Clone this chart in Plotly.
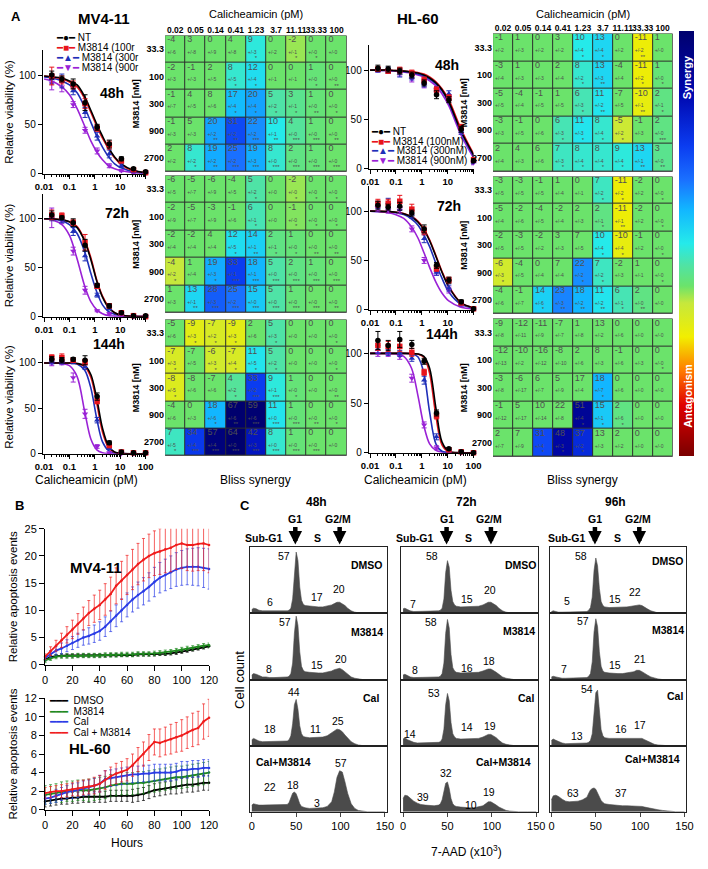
import plotly.graph_objects as go

W, H = 708, 869
FONT = "Arial, Liberation Sans, DejaVu Sans, sans-serif"

# ======================= DATA =======================
# ---- Panel A: viability curves ----
conc = [0.02, 0.05, 0.14, 0.41, 1.23, 3.7, 11.11, 33.33, 100]
conc_labels = ["0.02", "0.05", "0.14", "0.41", "1.23", "3.7", "11.11", "33.33", "100"]
fit_conc = [0.01, 0.02, 0.05, 0.1, 0.2, 0.4, 0.7, 1.2, 2, 3.5, 6, 11, 33, 100]
series_names = ["NT", "M3814 (100nM)", "M3814 (300nM)", "M3814 (900nM)"]
series_names_mv = ["NT", "M3814 (100r", "M3814 (300r", "M3814 (900r"]

mv48_mean = [[100, 96, 91, 72, 47, 30, 15, 5, 2],
             [99, 95, 90, 71, 46, 29, 13, 4, 1],
             [96, 94, 84, 62, 38, 20, 8, 2, 1],
             [92, 88, 70, 44, 23, 8, 3, 1, 0]]
mv48_sd = [[4, 3, 5, 8, 3, 4, 2, 1, 1],
           [9, 4, 4, 5, 3, 4, 2, 1, 1],
           [5, 7, 4, 5, 4, 4, 2, 1, 1],
           [7, 5, 3, 3, 3, 2, 1, 1, 0]]
mv48_fit = [[99, 98, 97, 94, 90, 78, 64, 50, 38, 26, 17, 10, 3.5, 1],
            [99, 98, 96, 93, 88, 76, 62, 48, 36, 25, 16, 9, 3, 1],
            [98, 97, 94, 90, 82, 67, 52, 38, 27, 17, 10, 6, 2, 0.5],
            [96, 94, 88, 80, 66, 48, 33, 22, 14, 8, 5, 3, 1, 0.3]]

mv72_mean = [[104, 101, 96, 73, 32, 11, 4, 1, 1],
             [104, 103, 96, 76, 31, 11, 4, 1, 0],
             [102, 99, 87, 62, 22, 8, 3, 1, 0],
             [101, 98, 67, 27, 6, 3, 1, 0, 0]]
mv72_sd = [[4, 2, 4, 6, 2, 2, 1, 1, 0],
           [5, 3, 3, 8, 2, 2, 1, 0, 0],
           [4, 3, 4, 5, 2, 1, 1, 0, 0],
           [10, 3, 4, 4, 1, 1, 0, 0, 0]]
mv72_fit = [[100, 100, 99, 97, 91, 77, 58, 36, 20, 9, 4, 1.5, 0.3, 0],
            [100, 100, 99, 97, 92, 78, 60, 37, 21, 10, 4, 1.5, 0.3, 0],
            [100, 99.5, 98, 94, 85, 66, 44, 25, 12, 5, 2.5, 1, 0.2, 0],
            [100, 99, 94, 83, 59, 31, 15, 7, 3, 1, 0.5, 0, 0, 0]]

mv144_mean = [[104, 103, 104, 103, 63, 12, 2, 1, 1],
              [106, 106, 103, 101, 58, 9, 2, 1, 1],
              [102, 102, 101, 96, 37, 6, 1, 0, 0],
              [100, 100, 84, 44, 8, 1, 0, 0, 0]]
mv144_sd = [[3, 3, 2, 5, 4, 2, 1, 1, 0],
            [3, 4, 2, 3, 3, 2, 1, 0, 0],
            [3, 3, 2, 3, 3, 1, 0, 0, 0],
            [3, 2, 5, 5, 2, 1, 0, 0, 0]]
mv144_fit = [[100, 100, 100, 100, 99.5, 97, 87, 60, 28, 8, 2, 0.5, 0, 0],
             [100, 100, 100, 100, 99.5, 96, 84, 55, 24, 6.5, 1.5, 0.3, 0, 0],
             [100, 100, 100, 100, 99, 92, 72, 38, 13, 3.3, 0.8, 0.2, 0, 0],
             [100, 100, 99.6, 97, 85, 46, 16, 4.3, 1.1, 0.2, 0, 0, 0, 0]]

hl48_mean = [[102, 101, 99, 95, 87, 75, 70, 40, 8],
             [101, 99, 100, 97, 90, 80, 72, 42, 9],
             [100, 100, 97, 93, 86, 80, 76, 38, 7],
             [100, 99, 97, 91, 85, 80, 72, 38, 6]]
hl48_sd = [[3, 3, 3, 3, 3, 4, 3, 3, 2],
           [2, 2, 3, 3, 3, 3, 3, 3, 2],
           [2, 3, 4, 3, 3, 3, 3, 3, 2],
           [2, 2, 3, 3, 3, 3, 3, 3, 2]]
hl48_fit = [[100, 100, 100, 99.5, 99, 98, 97, 95, 92, 87, 80, 68, 38, 14],
            [100, 100, 100, 99.5, 99, 98.5, 97.5, 96, 93, 88, 81, 70, 40, 15],
            [100, 100, 99.5, 99, 98.5, 97.5, 96, 94, 91, 86, 79, 67, 37, 13],
            [100, 100, 99.5, 99, 98, 97, 95, 93, 89, 84, 76, 64, 34, 11]]

hl72_mean = [[106, 104, 105, 98, 82, 45, 30, 8, 1],
             [108, 108, 110, 102, 80, 42, 30, 7, 1],
             [106, 109, 105, 97, 72, 38, 22, 6, 1],
             [103, 101, 101, 82, 50, 38, 20, 5, 1]]
hl72_sd = [[4, 3, 4, 3, 4, 3, 3, 2, 1],
           [4, 4, 6, 5, 4, 3, 3, 2, 1],
           [3, 4, 4, 4, 4, 3, 3, 2, 1],
           [3, 3, 3, 3, 3, 3, 3, 2, 1]]
hl72_fit = [[100, 99.8, 99.5, 98.8, 97.3, 94, 89, 81, 70, 54, 38, 23, 7, 2],
            [100, 99.8, 99.5, 98.8, 97.5, 94.5, 90, 82, 71, 55, 39, 24, 7, 2],
            [100, 99.7, 99.3, 98.5, 96.5, 92, 86, 76, 64, 47, 32, 18, 5.5, 1.6],
            [100, 99.4, 98.5, 96.4, 92.7, 84, 73, 58, 43, 28, 17, 9, 2.6, 0.7]]

hl144_mean = [[113, 108, 114, 109, 92, 40, 4, 1, 0],
              [108, 107, 107, 101, 81, 37, 3, 1, 0],
              [104, 101, 100, 95, 73, 16, 2, 0, 0],
              [100, 99, 97, 75, 28, 5, 1, 0, 0]]
hl144_sd = [[9, 5, 8, 4, 3, 3, 1, 1, 0],
            [5, 5, 5, 4, 3, 3, 1, 0, 0],
            [4, 3, 3, 3, 4, 3, 1, 0, 0],
            [3, 2, 3, 4, 3, 2, 1, 0, 0]]
hl144_fit = [[100, 100, 100, 100, 100, 99.8, 99.4, 97, 85, 45, 11, 1.5, 0, 0],
             [100, 100, 100, 100, 100, 99.8, 99.4, 96, 80, 37, 8, 1, 0, 0],
             [100, 100, 100, 100, 100, 99.5, 96.5, 80, 41, 9, 1.5, 0.2, 0, 0],
             [100, 100, 99.8, 99.4, 97, 85, 58, 27, 9, 2.4, 0.6, 0, 0, 0]]

# ---- Panel A: Bliss synergy matrices (rows = M3814 doses, cols = calicheamicin) ----
m3814_doses = ["33.3", "100", "300", "900", "2700"]

mv48_bliss = [[-4, 3, 0, 4, 9, 0, -2, 0, 0],
              [-2, -1, 2, 8, 12, 0, 0, 1, 0],
              [-1, 4, 8, 17, 20, 5, 3, 1, 0],
              [-1, 5, 20, 31, 22, 10, 4, 1, 0],
              [2, 8, 19, 25, 19, 8, 2, 1, 0]]
mv48_bliss_sd = [[6, 8, 9, 8, 3, 2, 1, 0, 0],
                 [3, 3, 5, 5, 4, 1, 1, 0, 0],
                 [7, 5, 6, 4, 4, 2, 1, 0, 0],
                 [3, 3, 2, 2, 2, 1, 0, 0, 0],
                 [2, 2, 2, 2, 3, 0, 0, 0, 0]]
mv48_bliss_sig = [[0, 0, 0, 0, 1, 0, 1, 1, 0],
                  [0, 0, 0, 1, 1, 0, 0, 1, 2],
                  [0, 0, 0, 1, 1, 1, 1, 2, 1],
                  [0, 0, 2, 2, 3, 2, 3, 3, 2],
                  [0, 1, 2, 3, 3, 3, 3, 3, 3]]

mv72_bliss = [[-6, -5, -6, -4, 5, 0, -2, 0, 0],
              [-2, -5, -3, -1, 6, 0, -1, 0, 0],
              [-2, -2, 4, 12, 14, 2, 1, 0, 0],
              [-4, 1, 19, 33, 18, 5, 2, 1, 0],
              [1, 13, 28, 25, 15, 5, 1, 0, 0]]
mv72_bliss_sd = [[5, 7, 9, 5, 2, 0, 0, 0, 0],
                 [9, 7, 9, 6, 1, 0, 0, 0, 0],
                 [4, 4, 4, 5, 1, 1, 0, 0, 0],
                 [2, 4, 3, 1, 1, 0, 0, 0, 0],
                 [3, 1, 3, 2, 0, 0, 0, 0, 0]]
mv72_bliss_sig = [[0, 0, 0, 0, 1, 0, 1, 1, 1],
                  [0, 0, 0, 0, 1, 0, 1, 1, 1],
                  [0, 0, 0, 1, 2, 1, 1, 2, 2],
                  [1, 0, 1, 3, 3, 3, 3, 3, 3],
                  [0, 2, 3, 3, 3, 3, 3, 3, 2]]

mv144_bliss = [[-5, -9, -7, -9, 2, 5, 0, 0, 0],
               [-7, -7, -6, -7, 11, 5, 0, 0, 0],
               [-8, -8, -7, 4, 33, 9, 1, 0, 0],
               [-4, 0, 18, 67, 59, 11, 1, 0, 0],
               [7, 34, 57, 64, 42, 8, 1, 0, 0]]
mv144_bliss_sd = [[6, 3, 2, 3, 6, 3, 0, 0, 0],
                  [3, 5, 3, 4, 5, 2, 0, 0, 0],
                  [5, 6, 6, 2, 2, 1, 0, 0, 0],
                  [6, 3, 6, 6, 6, 0, 0, 0, 0],
                  [5, 4, 4, 0, 3, 0, 0, 0, 0]]
mv144_bliss_sig = [[0, 1, 1, 1, 0, 1, 0, 0, 1],
                   [1, 0, 1, 1, 1, 1, 0, 0, 1],
                   [1, 0, 0, 1, 3, 3, 1, 0, 2],
                   [0, 0, 1, 2, 3, 3, 3, 2, 1],
                   [1, 3, 3, 3, 3, 3, 3, 3, 0]]

hl48_bliss = [[-1, 1, 0, 3, 10, 13, 0, -11, 1],
              [-3, 1, 0, 2, 8, 13, -4, -11, 1],
              [-5, -4, -1, 1, 6, 11, -7, -10, 2],
              [-3, -1, 0, 6, 11, 8, -5, -1, 2],
              [2, 4, 6, 7, 8, 8, 9, 13, 3]]
hl48_bliss_sd = [[2, 3, 2, 2, 4, 4, 2, 2, 0],
                 [4, 3, 3, 4, 2, 3, 4, 2, 0],
                 [5, 4, 5, 5, 3, 2, 5, 1, 1],
                 [3, 5, 6, 3, 3, 4, 2, 3, 0],
                 [4, 3, 6, 3, 4, 4, 4, 1, 0]]
hl48_bliss_sig = [[0, 0, 0, 0, 1, 1, 0, 2, 0],
                  [0, 0, 0, 0, 1, 2, 0, 1, 1],
                  [0, 0, 0, 0, 1, 2, 0, 2, 1],
                  [0, 0, 0, 1, 1, 1, 1, 0, 3],
                  [0, 0, 0, 1, 1, 1, 1, 2, 2]]

hl72_bliss = [[-3, -3, -1, 1, 0, 7, -11, -2, 0],
              [-5, -2, -4, -2, 2, 2, -11, -2, 0],
              [-2, -3, -2, 3, 7, 10, -10, -1, 0],
              [-6, -4, 0, 7, 22, 7, -2, 1, 0],
              [-4, -1, 14, 23, 18, 11, 6, 2, 0]]
hl72_bliss_sd = [[5, 5, 5, 4, 1, 2, 2, 2, 0],
                 [4, 6, 5, 4, 3, 1, 1, 2, 0],
                 [5, 5, 2, 3, 5, 4, 4, 2, 0],
                 [3, 5, 4, 4, 2, 2, 3, 1, 0],
                 [6, 7, 6, 3, 2, 2, 1, 0, 0]]
hl72_bliss_sig = [[0, 0, 0, 0, 0, 1, 1, 0, 1],
                  [0, 0, 0, 0, 0, 1, 2, 0, 1],
                  [0, 0, 0, 0, 0, 1, 1, 0, 1],
                  [1, 0, 0, 0, 1, 1, 0, 0, 1],
                  [0, 0, 1, 2, 2, 2, 1, 2, 0]]

hl144_bliss = [[-9, -12, -11, -7, 1, 13, 0, 0, 0],
               [-12, -10, -16, -8, 2, 8, -1, 0, 0],
               [-3, -6, 6, 5, 17, 18, 0, 0, 0],
               [-1, 5, 10, 22, 51, 15, 2, 0, 0],
               [2, 7, 31, 48, 37, 13, 2, 0, 0]]
hl144_bliss_sd = [[8, 11, 9, 7, 8, 2, 6, 0, 0],
                  [13, 2, 12, 10, 6, 3, 6, 3, 0],
                  [8, 17, 7, 9, 4, 7, 6, 0, 0],
                  [12, 17, 14, 8, 4, 1, 6, 0, 0],
                  [7, 9, 4, 3, 2, 3, 2, 0, 0]]
hl144_bliss_sig = [[0, 0, 0, 0, 0, 0, 0, 0, 0],
                   [0, 0, 0, 0, 0, 0, 0, 0, 1],
                   [0, 0, 0, 0, 0, 1, 0, 0, 0],
                   [0, 0, 0, 0, 1, 1, 1, 0, 0],
                   [0, 0, 1, 1, 1, 0, 0, 0, 0]]

# ---- Panel B: real-time apoptosis ----
hours = [0, 4, 8, 12, 16, 20, 24, 28, 32, 36, 40, 44, 48, 52, 56, 60,
         64, 68, 72, 76, 80, 84, 88, 92, 96, 100, 104, 108, 112, 116, 120]
apo_names = ["DMSO", "M3814", "Cal", "Cal + M3814"]

mv_dmso = [1.0, 1.4, 1.6, 1.7, 1.7, 1.7, 1.7, 1.7, 1.7, 1.7, 1.7, 1.7, 1.8, 1.8, 1.8, 1.8,
           1.8, 1.9, 1.9, 1.9, 1.9, 2.0, 2.0, 2.1, 2.2, 2.4, 2.6, 2.8, 3.0, 3.2, 3.4]
mv_dmso_sd = [0.3, 0.3, 0.3, 0.3, 0.3, 0.3, 0.3, 0.3, 0.3, 0.3, 0.3, 0.3, 0.3, 0.3, 0.3, 0.3,
              0.3, 0.3, 0.3, 0.3, 0.3, 0.3, 0.3, 0.3, 0.3, 0.3, 0.3, 0.3, 0.3, 0.3, 0.3]
mv_m3814 = [0.8, 1.2, 1.5, 1.6, 1.6, 1.6, 1.7, 1.7, 1.7, 1.7, 1.7, 1.8, 1.8, 1.8, 1.9, 1.9,
            1.9, 2.0, 2.0, 2.0, 2.1, 2.2, 2.3, 2.4, 2.6, 2.8, 3.0, 3.1, 3.3, 3.5, 3.6]
mv_m3814_sd = [0.4, 0.4, 0.4, 0.4, 0.4, 0.4, 0.4, 0.4, 0.4, 0.4, 0.4, 0.4, 0.4, 0.4, 0.4, 0.4,
               0.4, 0.4, 0.4, 0.4, 0.4, 0.4, 0.4, 0.4, 0.4, 0.4, 0.4, 0.4, 0.4, 0.4, 0.4]
mv_cal = [1.3, 2.0, 2.6, 3.0, 3.5, 4.0, 4.5, 5.0, 5.3, 5.7, 6.2, 7.0, 8.0, 9.0, 10.0, 11.0,
          12.0, 12.8, 13.5, 14.3, 15.2, 16.0, 16.5, 17.0, 17.5, 17.8, 18.0, 18.0, 18.0, 17.8, 17.6]
mv_cal_sd = [0.4, 0.6, 0.8, 1.0, 1.1, 1.2, 1.3, 1.4, 1.5, 1.6, 1.7, 1.8, 1.9, 2.0, 2.1, 2.2,
             2.3, 2.4, 2.5, 2.6, 2.7, 2.8, 2.9, 3.0, 3.1, 3.2, 3.3, 3.4, 3.5, 3.6, 3.7]
mv_combo = [1.5, 2.5, 3.5, 4.5, 5.5, 6.5, 7.5, 8.5, 9.5, 10.3, 11.0, 12.0, 13.0, 14.5, 15.5, 16.5,
            17.5, 18.5, 19.3, 20.0, 20.5, 20.8, 21.2, 21.5, 22.0, 22.3, 22.0, 22.0, 22.2, 22.3, 22.0]
mv_combo_sd = [0.5, 0.8, 1.0, 1.3, 1.5, 1.7, 1.9, 2.1, 2.3, 2.5, 2.7, 2.9, 3.1, 3.3, 3.5, 3.6,
               3.7, 3.8, 3.9, 4.0, 4.1, 4.2, 4.3, 4.4, 4.5, 4.6, 4.7, 4.8, 4.9, 5.0, 5.1]

hl_dmso = [0.9, 1.0, 1.1, 1.2, 1.2, 1.3, 1.3, 1.4, 1.4, 1.4, 1.4, 1.4, 1.5, 1.5, 1.5, 1.5,
           1.5, 1.6, 1.7, 1.9, 2.1, 2.2, 2.3, 2.4, 2.5, 2.6, 2.7, 2.7, 2.8, 2.9, 2.9]
hl_dmso_sd = [0.6, 0.6, 0.6, 0.6, 0.6, 0.6, 0.6, 0.6, 0.6, 0.6, 0.6, 0.6, 0.6, 0.6, 0.6, 0.6,
              0.7, 0.7, 0.7, 0.7, 0.7, 0.7, 0.7, 0.7, 0.8, 0.8, 0.8, 0.8, 0.8, 0.8, 0.8]
hl_m3814 = [1.6, 1.7, 1.8, 1.9, 2.0, 2.0, 2.1, 2.1, 2.1, 2.2, 2.3, 2.4, 2.6, 2.7, 2.8, 2.8,
            2.8, 2.9, 2.9, 3.0, 3.1, 3.2, 3.3, 3.4, 3.5, 3.5, 3.6, 3.7, 3.8, 3.9, 4.0]
hl_m3814_sd = [1.0, 1.0, 1.0, 1.1, 1.1, 1.1, 1.1, 1.1, 1.2, 1.2, 1.2, 1.2, 1.2, 1.2, 1.2, 1.2,
               1.2, 1.2, 1.2, 1.2, 1.2, 1.2, 1.2, 1.2, 1.2, 1.2, 1.2, 1.2, 1.2, 1.2, 1.2]
hl_cal = [1.2, 1.3, 1.5, 1.7, 1.9, 2.0, 2.1, 2.3, 2.4, 2.6, 2.8, 3.3, 3.4, 3.5, 3.6, 3.7,
          3.8, 3.8, 3.9, 3.9, 4.0, 4.0, 4.0, 4.0, 4.1, 4.3, 4.3, 4.4, 4.4, 4.5, 4.5]
hl_cal_sd = [0.6, 0.6, 0.7, 0.7, 0.7, 0.8, 0.8, 0.8, 0.8, 0.8, 0.9, 0.9, 0.9, 0.9, 0.9, 0.9,
             0.9, 0.9, 0.9, 0.9, 0.9, 0.9, 0.9, 0.9, 0.9, 0.9, 0.9, 0.9, 0.9, 0.9, 0.9]
hl_combo = [1.8, 1.9, 2.0, 2.0, 2.1, 2.2, 2.3, 2.4, 2.5, 2.6, 2.8, 3.2, 3.6, 3.9, 4.1, 4.3,
            4.8, 5.4, 6.0, 6.7, 7.3, 7.2, 7.4, 7.6, 7.8, 8.0, 8.3, 8.6, 8.8, 9.5, 9.9]
hl_combo_sd = [0.6, 0.6, 0.6, 0.7, 0.7, 0.7, 0.8, 0.8, 0.8, 0.9, 0.9, 1.0, 1.0, 1.1, 1.1, 1.2,
               1.2, 1.3, 1.3, 1.4, 1.4, 1.5, 1.5, 1.6, 1.6, 1.7, 1.7, 1.8, 1.8, 1.9, 2.0]

# ---- Panel C: cell-cycle histograms (7-AAD x10^3 vs relative cell count) ----
treatments = ["DMSO", "M3814", "Cal", "Cal+M3814"]
timepoints = ["48h", "72h", "96h"]
hist_x = [0, 2, 5, 8, 12, 16, 20, 25, 30, 35, 40, 42, 44, 46, 48, 50, 52, 54, 56, 58,
          60, 65, 70, 75, 80, 85, 90, 93, 96, 99, 102, 105, 108, 112, 116, 120, 125, 130, 140, 150]
hist48 = [[6, 8, 7, 5, 4, 4, 3, 3, 3, 3, 4, 5, 8, 22, 65, 93, 80, 40, 20, 14,
           12, 11, 10, 10, 10, 11, 13, 15, 17, 17, 15, 12, 8, 4, 2, 1, 0, 0, 0, 0],
          [7, 9, 8, 6, 4, 4, 3, 3, 3, 3, 4, 5, 9, 25, 70, 96, 82, 42, 20, 14,
           12, 11, 10, 10, 10, 11, 13, 15, 16, 17, 15, 12, 8, 4, 2, 1, 0, 0, 0, 0],
          [9, 11, 9, 7, 6, 6, 6, 6, 6, 6, 7, 9, 15, 33, 62, 70, 55, 30, 18, 14,
           13, 12, 12, 12, 13, 15, 19, 22, 25, 24, 21, 16, 11, 6, 3, 1, 0, 0, 0, 0],
          [10, 12, 11, 10, 10, 10, 10, 10, 10, 10, 11, 14, 22, 28, 30, 27, 20, 12, 8, 7,
           6, 5, 5, 5, 6, 8, 15, 30, 52, 62, 60, 45, 28, 12, 5, 2, 1, 0, 0, 0]]
hist72 = [[7, 8, 6, 4, 3, 3, 3, 3, 3, 3, 4, 5, 8, 22, 62, 80, 70, 35, 18, 13,
           11, 10, 10, 10, 10, 11, 13, 15, 17, 17, 15, 12, 8, 4, 2, 1, 0, 0, 0, 0],
          [7, 8, 6, 4, 3, 3, 3, 3, 3, 3, 4, 5, 9, 25, 70, 91, 78, 38, 18, 13,
           11, 10, 10, 10, 10, 11, 13, 15, 16, 16, 14, 11, 8, 4, 2, 1, 0, 0, 0, 0],
          [10, 12, 9, 7, 5, 4, 4, 4, 4, 4, 5, 6, 10, 25, 62, 79, 68, 35, 18, 13,
           11, 10, 10, 10, 10, 11, 13, 15, 17, 17, 15, 12, 8, 4, 2, 1, 0, 0, 0, 0],
          [20, 25, 24, 20, 16, 13, 11, 10, 9, 9, 10, 12, 18, 32, 43, 45, 35, 20, 12, 9,
           8, 7, 6, 6, 6, 7, 9, 12, 15, 15, 13, 10, 7, 4, 2, 1, 0, 0, 0, 0]]
hist96 = [[3, 4, 3, 2, 2, 2, 2, 2, 2, 2, 3, 5, 9, 25, 65, 84, 72, 38, 18, 12,
           10, 9, 9, 9, 9, 10, 11, 12, 13, 13, 12, 10, 7, 4, 2, 1, 0, 0, 0, 0],
          [4, 5, 4, 3, 2, 2, 2, 2, 2, 2, 3, 5, 9, 27, 72, 92, 80, 42, 20, 13,
           11, 10, 9, 9, 9, 10, 11, 12, 14, 14, 12, 10, 7, 4, 2, 1, 0, 0, 0, 0],
          [8, 10, 8, 6, 4, 3, 3, 3, 3, 3, 4, 5, 8, 18, 50, 80, 84, 50, 24, 15,
           12, 11, 11, 11, 11, 11, 12, 12, 12, 12, 11, 9, 7, 4, 2, 1, 0, 0, 0, 0],
          [18, 24, 25, 23, 19, 16, 15, 15, 16, 18, 22, 28, 33, 35, 36, 34, 28, 22, 17, 14,
           12, 11, 10, 9, 9, 9, 9, 9, 9, 8, 8, 7, 6, 5, 4, 3, 2, 1, 0, 0]]
pct48 = [[6, 57, 17, 20], [8, 57, 15, 20], [18, 44, 11, 25], [22, 18, 3, 57]]
pct72 = [[7, 58, 15, 20], [8, 58, 16, 18], [14, 53, 14, 19], [39, 32, 10, 19]]
pct96 = [[5, 58, 15, 22], [7, 57, 15, 21], [13, 54, 16, 17], [63, 37]]

# ======================= STYLE / LAYOUT HELPERS =======================
def PX(x):
    return x / W

def PY(y):
    return 1 - y / H

def dx(a, b):
    return [a / W, b / W]

def dy(top, bottom):
    return [1 - bottom / H, 1 - top / H]

fig = go.Figure()
layout = {}
annotations = []
shapes = []
counter = [0]

def new_axes(xdom, ydom, xkw, ykw):
    counter[0] += 1
    n = counter[0]
    s = "" if n == 1 else str(n)
    layout["xaxis" + s] = dict(domain=xdom, anchor="y" + s, **xkw)
    layout["yaxis" + s] = dict(domain=ydom, anchor="x" + s, **ykw)
    return "x" + s, "y" + s

def ann(text, x, y, size=10, bold=False, color="black", xanchor="center", yanchor="middle",
        xref="paper", yref="paper", angle=0):
    t = "<b>%s</b>" % text if bold else text
    annotations.append(dict(text=t, x=x, y=y, xref=xref, yref=yref, showarrow=False,
                            font=dict(size=size, color=color, family=FONT),
                            xanchor=xanchor, yanchor=yanchor, textangle=angle))

# ======================= PANEL A: CURVES =======================
curve_colors = ["#000000", "#e8141c", "#1f2fb8", "#9a22d6"]
curve_symbols = ["circle", "square", "triangle-up", "triangle-down"]
legend_glyphs = ["\u25cf", "\u25a0", "\u25b2", "\u25bc"]
minor_vals = [m * 10.0 ** e for e in range(-2, 2) for m in range(2, 10)]

def curve_panel(xdom, ydom, means, sds, fits, show100, ytitle):
    tt = ["<b>0.01</b>", "<b>0.1</b>", "<b>1</b>", "<b>10</b>", "<b>100</b>" if show100 else ""]
    xkw = dict(type="log", range=[-2.05, 2.0], tickvals=[0.01, 0.1, 1, 10, 100], ticktext=tt,
               ticks="outside", ticklen=4, tickwidth=1, tickcolor="black", showline=True,
               linecolor="black", linewidth=1.2, showgrid=False, zeroline=False, tickangle=0,
               tickfont=dict(size=9.5, color="black"),
               minor=dict(tickvals=minor_vals, ticks="outside", ticklen=2, tickcolor="black", showgrid=False))
    ykw = dict(range=[0, 125], tickvals=[0, 50, 100], ticks="outside", ticklen=4, tickcolor="black",
               showline=True, linecolor="black", linewidth=1.2, showgrid=False, zeroline=False,
               tickfont=dict(size=10, color="black"))
    if ytitle:
        ykw["title"] = dict(text="Relative viability (%)", font=dict(size=11.5, color="black"), standoff=3)
    xa, ya = new_axes(xdom, ydom, xkw, ykw)
    for k in [3, 2, 1, 0]:
        fig.add_trace(go.Scatter(x=fit_conc, y=fits[k], mode="lines", xaxis=xa, yaxis=ya,
                                 line=dict(color=curve_colors[k], width=1.6, shape="spline", smoothing=0.9),
                                 showlegend=False, hoverinfo="skip"))
    for k in [3, 2, 1, 0]:
        fig.add_trace(go.Scatter(x=conc, y=means[k], mode="markers", xaxis=xa, yaxis=ya,
                                 marker=dict(color=curve_colors[k], symbol=curve_symbols[k], size=5.5),
                                 error_y=dict(type="data", array=sds[k], color=curve_colors[k],
                                              thickness=1, width=2.5),
                                 cliponaxis=False, showlegend=False, hoverinfo="skip"))
    return xa, ya

curve_panel(dx(35.7, 141), dy(45, 170), mv48_mean, mv48_sd, mv48_fit, False, True)
curve_panel(dx(35.7, 141), dy(191, 315), mv72_mean, mv72_sd, mv72_fit, False, True)
curve_panel(dx(35.7, 141), dy(339, 454), mv144_mean, mv144_sd, mv144_fit, True, True)
curve_panel(dx(369.7, 477), dy(40, 165), hl48_mean, hl48_sd, hl48_fit, False, False)
curve_panel(dx(369.7, 477), dy(183, 308), hl72_mean, hl72_sd, hl72_fit, False, False)
curve_panel(dx(369.7, 477), dy(327, 453), hl144_mean, hl144_sd, hl144_fit, True, False)

for txt, (x, y) in zip(["48h", "72h", "144h"], [(107, 88), (112, 210), (103, 343)]):
    ann(txt, PX(x), PY(y), size=14, bold=True)
for txt, (x, y) in zip(["48h", "72h", "144h"], [(450, 60), (452, 203), (445, 333)]):
    ann(txt, PX(x), PY(y), size=14, bold=True)

# custom compact legends
for k in range(4):
    ann("<span style='color:%s'>\u2501%s\u2501</span> %s" % (curve_colors[k], legend_glyphs[k], series_names_mv[k]),
        PX(47), PY(32 + 10 * k), size=10, xanchor="left")
    ann("<span style='color:%s'>\u2501%s\u2501</span> %s" % (curve_colors[k], legend_glyphs[k], series_names[k]),
        PX(370), PY(127 + 10 * k), size=10, xanchor="left")

# ======================= PANEL A: HEATMAPS =======================
CS = [[0.0, "#7a0000"], [0.12, "#e00000"], [0.20, "#ff7a00"], [0.28, "#f2ee00"],
      [0.36, "#c6e83c"], [0.40, "#6be36b"], [0.45, "#4fe3a6"], [0.50, "#25eaea"],
      [0.58, "#12b6ff"], [0.65, "#1a70ff"], [0.73, "#0b3cf0"], [0.85, "#0008b0"], [1.0, "#00006e"]]
ncol = len(conc_labels)
nrow = len(m3814_doses)
first_scale = [True]

def heat_panel(xdom, ydom, vals, sds, sig, top_labels):
    xkw = dict(range=[-0.5, ncol - 0.5], showgrid=False, zeroline=False, showline=False,
               tickvals=list(range(ncol)), ticktext=["<b>%s</b>" % c for c in conc_labels],
               showticklabels=top_labels, side="top", ticks="", tickangle=0,
               tickfont=dict(size=8.5, color="black"))
    ykw = dict(range=[nrow - 0.5, -0.5], showgrid=False, zeroline=False, showline=False,
               tickvals=list(range(nrow)), ticktext=["<b>%s</b>" % d for d in m3814_doses], ticks="",
               tickfont=dict(size=9, color="black"),
               title=dict(text="<b>M3814 [nM]</b>", font=dict(size=9, color="black"), standoff=2))
    xa, ya = new_axes(xdom, ydom, xkw, ykw)
    zc = [[vals[i][j] if sig[i][j] > 0 else 0 for j in range(ncol)] for i in range(nrow)]
    hm = dict(z=zc, x=list(range(ncol)), y=list(range(nrow)), xaxis=xa, yaxis=ya, colorscale=CS,
              zmin=-40, zmax=60, xgap=1, ygap=1, hoverinfo="skip", showscale=first_scale[0])
    if first_scale[0]:
        hm["colorbar"] = dict(x=PX(688), xanchor="left", y=PY(25), yanchor="top", len=(456 - 25) / H,
                              lenmode="fraction", thickness=15, thicknessmode="pixels", outlinewidth=0,
                              showticklabels=False, ticks="", xpad=0, ypad=0)
        first_scale[0] = False
    fig.add_trace(go.Heatmap(**hm))
    shapes.append(dict(type="rect", xref=xa, yref=ya, x0=-0.5, x1=ncol - 0.5, y0=-0.5, y1=nrow - 0.5,
                       fillcolor="#2e2e2e", line=dict(color="#2e2e2e", width=1), layer="below"))
    tx, ty, tt, sx, sy, st = [], [], [], [], [], []
    for i in range(nrow):
        for j in range(ncol):
            tx.append(j - 0.4)
            ty.append(i - 0.12)
            tt.append("%d<br><span style='font-size:5px'>+/-%d</span>" % (vals[i][j], sds[i][j]))
            if sig[i][j] > 0:
                sx.append(j)
                sy.append(i + 0.36)
                st.append("*" * sig[i][j])
    fig.add_trace(go.Scatter(x=tx, y=ty, text=tt, mode="text", textposition="middle right",
                             textfont=dict(size=9, color="#505050", family=FONT), xaxis=xa, yaxis=ya,
                             cliponaxis=False, showlegend=False, hoverinfo="skip"))
    fig.add_trace(go.Scatter(x=sx, y=sy, text=st, mode="text", textposition="middle center",
                             textfont=dict(size=6, color="#505050", family=FONT), xaxis=xa, yaxis=ya,
                             cliponaxis=False, showlegend=False, hoverinfo="skip"))

heat_panel(dx(161, 347), dy(30, 168), mv48_bliss, mv48_bliss_sd, mv48_bliss_sig, True)
heat_panel(dx(161, 347), dy(172, 311), mv72_bliss, mv72_bliss_sd, mv72_bliss_sig, False)
heat_panel(dx(161, 347), dy(318, 456), mv144_bliss, mv144_bliss_sd, mv144_bliss_sig, False)
heat_panel(dx(497, 681), dy(28, 168), hl48_bliss, hl48_bliss_sd, hl48_bliss_sig, True)
heat_panel(dx(497, 681), dy(173, 312), hl72_bliss, hl72_bliss_sd, hl72_bliss_sig, False)
heat_panel(dx(497, 681), dy(317, 457), hl144_bliss, hl144_bliss_sd, hl144_bliss_sig, False)

ann("Synergy", PX(696), PY(72), size=11, bold=True, color="white", angle=-90)
ann("Antagonism", PX(696), PY(395), size=11, bold=True, color="white", angle=-90)

# Panel A titles
ann("A", PX(8), PY(11), size=13, bold=True)
ann("MV4-11", PX(98), PY(13), size=15, bold=True)
ann("HL-60", PX(420), PY(13), size=15, bold=True)
ann("Calicheamicin (pM)", PX(254), PY(8), size=11)
ann("Calicheamicin (pM)", PX(589), PY(8), size=11)
ann("Calicheamicin (pM)", PX(80), PY(481), size=12)
ann("Calicheamicin (pM)", PX(418), PY(481), size=12)
ann("Bliss synergy", PX(254), PY(481), size=12)
ann("Bliss synergy", PX(589), PY(481), size=12)

# ======================= PANEL B =======================
apo_colors = ["#000000", "#1e8a1e", "#2a3ce6", "#f01c1c"]

def apo_panel(ydom, yrange, dtick, series, sds, xtitle):
    xkw = dict(range=[0, 120], tickvals=[0, 20, 40, 60, 80, 100, 120], ticks="outside", ticklen=5,
               tickcolor="black", showline=True, linecolor="black", linewidth=1.2, showgrid=False,
               zeroline=False, tickfont=dict(size=11, color="black"))
    if xtitle:
        xkw["title"] = dict(text="Hours", font=dict(size=12, color="black"), standoff=8)
    ykw = dict(range=yrange, dtick=dtick, ticks="outside", ticklen=5, tickcolor="black", showline=True,
               linecolor="black", linewidth=1.2, showgrid=False, zeroline=False,
               tickfont=dict(size=11, color="black"),
               title=dict(text="Relative apoptosis events", font=dict(size=11.5, color="black"), standoff=4))
    xa, ya = new_axes(dx(38, 206), ydom, xkw, ykw)
    for k in range(4):
        fig.add_trace(go.Scatter(x=hours, y=series[k], mode="lines+markers", xaxis=xa, yaxis=ya,
                                 line=dict(color=apo_colors[k], width=1.8),
                                 marker=dict(color=apo_colors[k], size=2.5),
                                 error_y=dict(type="data", array=sds[k], color=apo_colors[k],
                                              thickness=0.7, width=1.5),
                                 cliponaxis=False, showlegend=False, hoverinfo="skip"))

apo_panel(dy(530, 668), [0, 25], 5, [mv_dmso, mv_m3814, mv_cal, mv_combo],
          [mv_dmso_sd, mv_m3814_sd, mv_cal_sd, mv_combo_sd], False)
apo_panel(dy(702, 815), [0, 12], 2, [hl_dmso, hl_m3814, hl_cal, hl_combo],
          [hl_dmso_sd, hl_m3814_sd, hl_cal_sd, hl_combo_sd], True)

ann("B", PX(12), PY(506), size=13, bold=True)
ann("MV4-11", PX(90), PY(569), size=15, bold=True)
ann("HL-60", PX(84), PY(753), size=15, bold=True)
for k, y in enumerate([704, 715, 726, 737]):
    ann("<span style='color:%s'>\u2501\u2501\u2501</span>  %s" % (apo_colors[k], apo_names[k]),
        PX(40), PY(y), size=10, xanchor="left")

# ======================= PANEL C =======================
col_x = [(248, 388), (403, 543), (555, 695)]
row_y = [(549, 616), (616, 683), (683, 750), (750, 817)]
all_hist = [hist48, hist72, hist96]
all_pct = [pct48, pct72, pct96]
pct_pos = [
    [[(20, 18), (36, 87), (74, 25), (98, 37)], [(19, 16), (37, 87), (74, 22), (101, 31)],
     [(20, 25), (48, 81), (72, 25), (97, 37)], [(20, 37), (46, 40), (73, 13), (101, 73)]],
    [[(11, 14), (33, 87), (72, 22), (98, 36)], [(13, 15), (31, 87), (72, 18), (97, 28)],
     [(8, 18), (35, 79), (72, 28), (98, 30)], [(22, 22), (48, 58), (76, 10), (97, 30)]],
    [[(18, 19), (33, 87), (72, 22), (94, 33)], [(14, 16), (36, 88), (72, 22), (100, 31)],
     [(29, 15), (40, 85), (78, 25), (100, 31)], [(24, 28), (78, 28)]],
]
tname_pos = [
    [(130, 73), (130, 72), (134, 72), (36, 76)],
    [(133, 73), (131, 73), (139, 72), (113, 75)],
    [(131, 79), (131, 75), (139, 75), (114, 80)],
]
hdr_x = [316, 470, 622]
for c in range(3):
    top_xa = None
    for r in range(4):
        bottom = r == 3
        xkw = dict(range=[-2, 152], showline=True, mirror=True, linecolor="#222", linewidth=1,
                   showgrid=False, zeroline=False, tickvals=[0, 50, 100, 150],
                   showticklabels=bottom, ticks="outside" if bottom else "", ticklen=4,
                   tickfont=dict(size=11, color="black"))
        ykw = dict(range=[0, 100], showline=True, mirror=True, linecolor="#222", linewidth=1,
                   showgrid=False, zeroline=False, showticklabels=False, ticks="")
        xa, ya = new_axes(dx(*col_x[c]), dy(*row_y[r]), xkw, ykw)
        if r == 0:
            top_xa = xa
        fig.add_trace(go.Scatter(x=hist_x, y=all_hist[c][r], mode="lines", fill="tozeroy",
                                 fillcolor="#4b4b4b", line=dict(color="#4b4b4b", width=0.6),
                                 xaxis=xa, yaxis=ya, showlegend=False, hoverinfo="skip"))
        for val, (px_, py_) in zip(all_pct[c][r], pct_pos[c][r]):
            ann(str(val), px_, py_, size=10.5, xref=xa, yref=ya)
        tx_, ty_ = tname_pos[c][r]
        ann(treatments[r], tx_, ty_, size=10.5, bold=True, xref=xa, yref=ya)
    # phase headers
    ann(timepoints[c], PX(hdr_x[c]), PY(503), size=12, bold=True)
    ann("Sub-G1", 13 if c < 2 else 17, PY(539), size=10.5, bold=True, xref=top_xa)
    ann("G1", 49, PY(520), size=10.5, bold=True, xref=top_xa)
    ann("S", 74, PY(539), size=10.5, bold=True, xref=top_xa)
    ann("G2/M", 97, PY(520), size=10.5, bold=True, xref=top_xa)
    for xv in [49, 99]:
        annotations.append(dict(text="", x=xv, y=PY(546), xref=top_xa, yref="paper", showarrow=True,
                                ax=0, ay=-19, arrowhead=2, arrowsize=0.6, arrowwidth=4.5,
                                arrowcolor="black"))

ann("C", PX(243), PY(506), size=13, bold=True)
ann("Cell count", PX(237), PY(683), size=13, angle=-90)
ann("7-AAD (x10<sup>3</sup>)", PX(470), PY(857), size=12)

# ======================= FINAL LAYOUT =======================
layout.update(dict(width=W, height=H, margin=dict(l=0, r=0, t=0, b=0),
                   paper_bgcolor="white", plot_bgcolor="white",
                   font=dict(family=FONT, color="black", size=10),
                   showlegend=False, annotations=annotations, shapes=shapes))
fig.update_layout(**layout)

fig.write_html("out.html", config={"displayModeBar": False},
               post_script="document.body.style.margin='0px';")
